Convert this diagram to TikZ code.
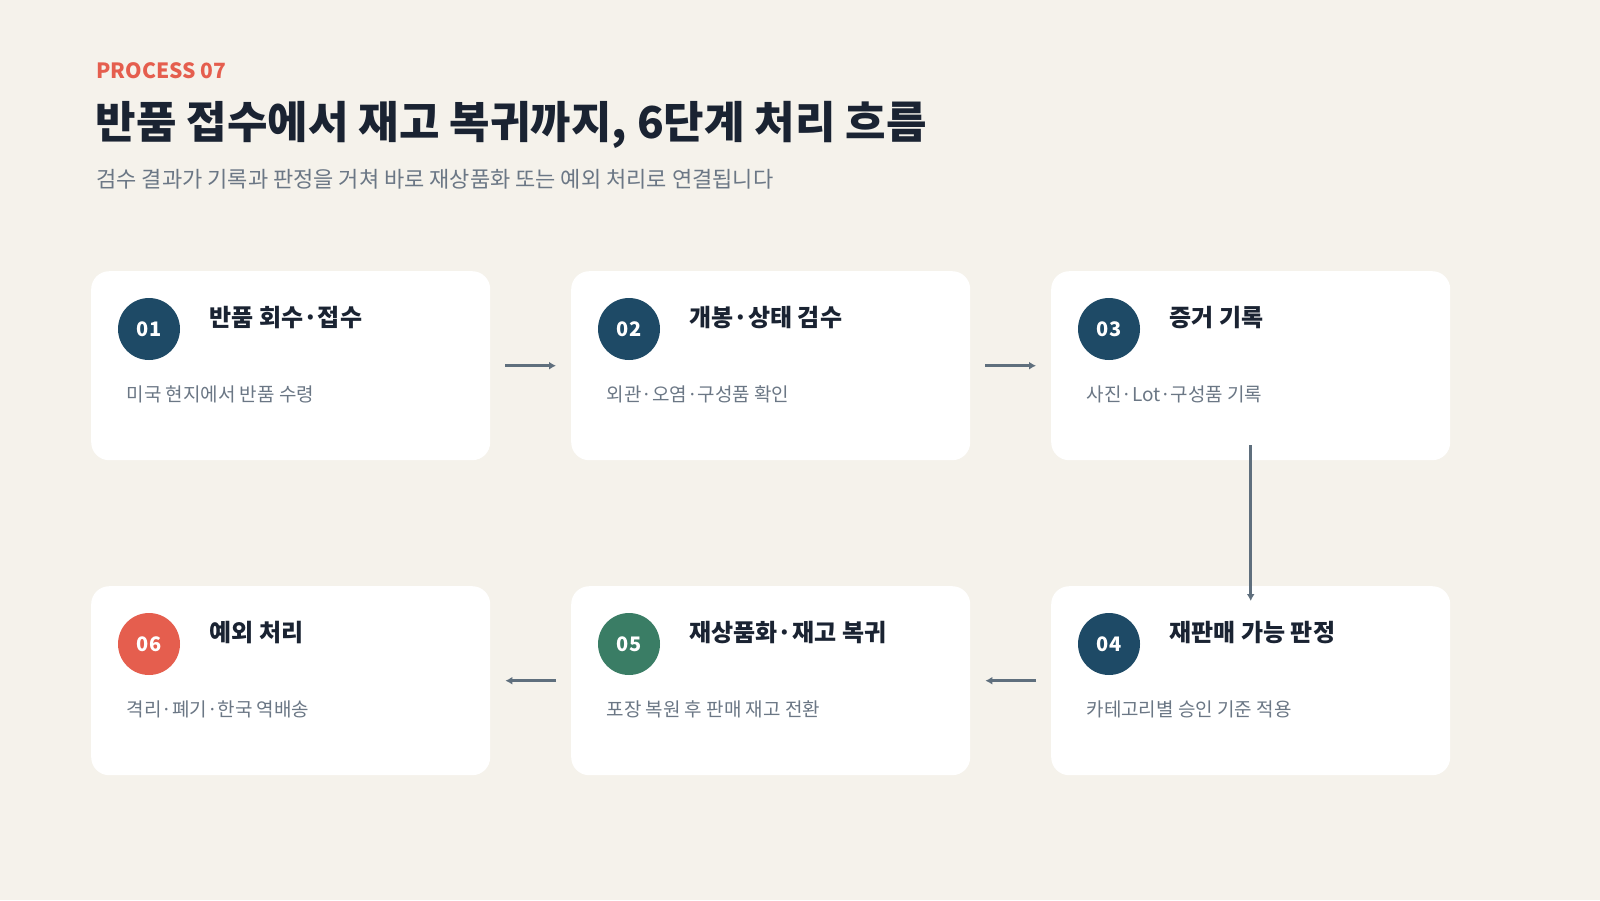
\documentclass[tikz,border=0pt]{standalone}
\usepackage{fontspec}
\setmainfont{Noto Sans CJK KR}
\usetikzlibrary{positioning}
\definecolor{bgc}{HTML}{F5F2EB}
\definecolor{navy}{HTML}{1E4A66}
\definecolor{accent}{HTML}{E55E4E}
\definecolor{leaf}{HTML}{3A7D65}
\definecolor{ink}{HTML}{1A2332}
\definecolor{muted}{HTML}{6B7785}
\definecolor{arr}{HTML}{5F6F7D}
\tikzset{
  card/.style={fill=white, rounded corners=18pt, minimum width=399pt, minimum height=189pt, inner sep=0pt},
  num/.style={circle, minimum size=62pt, inner sep=0pt, text=white, font=\fontsize{20}{20}\selectfont\bfseries},
  ttl/.style={anchor=west, text=ink, font=\fontsize{24}{24}\selectfont\bfseries},
  dsc/.style={anchor=west, text=muted, font=\fontsize{19}{19}\selectfont},
  flow/.style={draw=arr, line width=3.5pt, -{Latex[length=7pt,width=8pt]}}
}
\usetikzlibrary{arrows.meta}
\begin{document}
\begin{tikzpicture}[x=1pt,y=-1pt]
\fill[bgc] (0,0) rectangle (1600,900);
\useasboundingbox (0,0) rectangle (1600,900);

\node[anchor=west, text=accent, font=\fontsize{21}{21}\selectfont\bfseries] (tag) at (93,71) {PROCESS 07};
\node[anchor=west, text=ink, font=\fontsize{44}{44}\selectfont\bfseries] (head) at (92,125) {반품 접수에서 재고 복귀까지, 6단계 처리 흐름};
\node[anchor=west, text=muted, font=\fontsize{22}{22}\selectfont] (sub) at (93,179) {검수 결과가 기록과 판정을 거쳐 바로 재상품화 또는 예외 처리로 연결됩니다};

% cards
\foreach \n/\x/\y/\c/\t/\d in {
  01/91/271/navy/반품 회수·접수/미국 현지에서 반품 수령,
  02/571/271/navy/개봉·상태 검수/외관·오염·구성품 확인,
  03/1051/271/navy/증거 기록/사진·Lot·구성품 기록,
  04/1051/586/navy/재판매 가능 판정/카테고리별 승인 기준 적용,
  05/571/586/leaf/재상품화·재고 복귀/포장 복원 후 판매 재고 전환,
  06/91/586/accent/예외 처리/격리·폐기·한국 역배송}{
  \node[card, anchor=north west] (c\n) at (\x,\y) {};
  \node[num, fill=\c] (n\n) at (\x+58,\y+58) {\n};
  \node[ttl] (t\n) at (\x+115,\y+47) {\t};
  \node[dsc] (d\n) at (\x+32,\y+123) {\d};
}

\draw[flow] ([xshift=15pt]c01.east) -- ([xshift=-15pt]c02.west);
\draw[flow] ([xshift=15pt]c02.east) -- ([xshift=-15pt]c03.west);
\draw[flow] ([yshift=15pt]c03.south) -- ([yshift=-15pt]c04.north);
\draw[flow] ([xshift=-15pt]c04.west) -- ([xshift=15pt]c05.east);
\draw[flow] ([xshift=-15pt]c05.west) -- ([xshift=15pt]c06.east);
\end{tikzpicture}
\end{document}
